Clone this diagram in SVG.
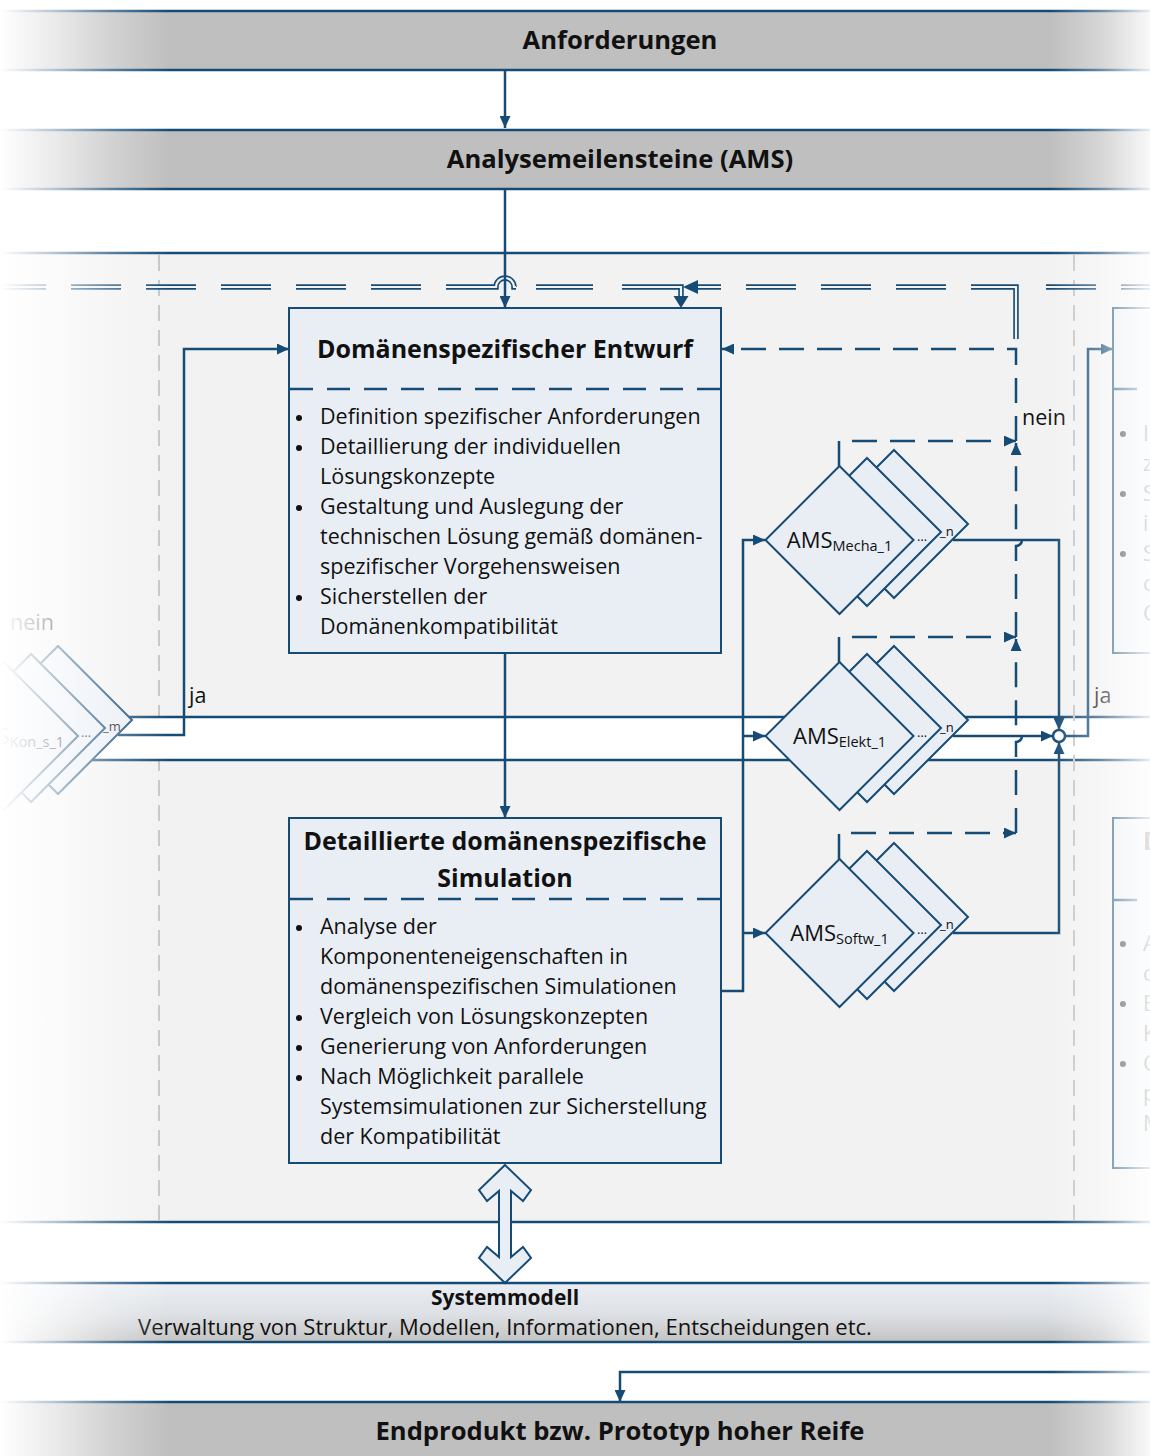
<svg xmlns="http://www.w3.org/2000/svg" width="1150" height="1456" viewBox="0 0 1150 1456">
  <defs>
    <style>
      .t{font-family:"Open Sans","DejaVu Sans",sans-serif;fill:#111}
      .bold{font-weight:bold}
      .body{font-size:21.5px}
      .ttl{font-size:25px;font-weight:bold}
      .bt{font-size:25.6px;font-weight:bold}
      .band{fill:#bfbfbf}
      .bl{stroke:#164b76;stroke-width:2.5;fill:none}
      .c{stroke:#164b76;stroke-width:2.5;fill:none}
      .d{stroke:#164b76;stroke-width:2.5;fill:none;stroke-dasharray:25 13}
      .box{fill:#e9eef5;stroke:#164b76;stroke-width:2}
      .sep{stroke:#164b76;stroke-width:2.5;stroke-dasharray:23 14}
      .dia{fill:#e9eef5;stroke:#164b76;stroke-width:2}
      .lane{stroke:#c6c6c6;stroke-width:2;stroke-dasharray:16 9}
      .dbo{stroke:#164b76;stroke-width:5.5;fill:none}
      .dbi{stroke:#f2f2f2;stroke-width:2.2;fill:none}
      .ah{fill:#164b76}
      .sm{font-size:13px}
      .dot{fill:#111}
    </style>
    <marker id="arr" viewBox="0 0 12 11" refX="12" refY="5.5" markerWidth="12" markerHeight="11" markerUnits="userSpaceOnUse" orient="auto">
      <path d="M0,0 L12,5.5 L0,11 z" fill="#164b76"/>
    </marker>
    <linearGradient id="sysGrad" x1="0" y1="0" x2="0" y2="1">
      <stop offset="0" stop-color="#ebeff4"/>
      <stop offset="0.55" stop-color="#dcdfe3"/>
      <stop offset="1" stop-color="#c3c3c3"/>
    </linearGradient>
    <linearGradient id="fadeL" x1="0" y1="0" x2="1" y2="0">
      <stop offset="0" stop-color="#fff" stop-opacity="1"/>
      <stop offset="0.3" stop-color="#fff" stop-opacity="0.7"/>
      <stop offset="0.65" stop-color="#fff" stop-opacity="0.3"/>
      <stop offset="1" stop-color="#fff" stop-opacity="0"/>
    </linearGradient>
    <linearGradient id="fadeR" x1="0" y1="0" x2="1" y2="0">
      <stop offset="0" stop-color="#fff" stop-opacity="0"/>
      <stop offset="0.5" stop-color="#fff" stop-opacity="0.35"/>
      <stop offset="1" stop-color="#fff" stop-opacity="0.9"/>
    </linearGradient>
    <path id="dm" d="M0,-74 L74,0 L0,74 L-74,0 z"/>
    <!-- double (system level) information flow -->
    <path id="dblL" d="M-4,287 H46 M71,287 H121 M146,287 H196 M221,287 H271 M296,287 H346 M371,287 H421 M446,287 H496 A9,9 0 0 1 514,287 H516 M536,287 H593 M622,287 H681 V297"/>
    <path id="dblR" d="M698,287 H721 M746,287 H796 M821,287 H871 M896,287 H946 M971,287 H1016 V339 M1046,287 H1096 M1121,287 H1160"/>
  </defs>

  <!-- background bands -->
  <rect x="0" y="0" width="1150" height="1456" fill="#fff"/>
  <g id="band-anforderungen">
    <rect class="band" x="0" y="11" width="1150" height="59"/>
    <line class="bl" x1="0" y1="11" x2="1150" y2="11"/>
    <line class="bl" x1="0" y1="70" x2="1150" y2="70"/>
    <text class="t bt" x="620" y="49" text-anchor="middle">Anforderungen</text>
  </g>
  <g id="band-ams">
    <rect class="band" x="0" y="130" width="1150" height="59"/>
    <line class="bl" x1="0" y1="130" x2="1150" y2="130"/>
    <line class="bl" x1="0" y1="189" x2="1150" y2="189"/>
    <text class="t bt" x="620" y="168" text-anchor="middle">Analysemeilensteine (AMS)</text>
  </g>
  <g id="lane-domain">
    <rect x="0" y="253" width="1150" height="969" fill="#f2f2f2"/>
    <line class="bl" x1="0" y1="253" x2="1150" y2="253"/>
    <line class="bl" x1="0" y1="1222" x2="1150" y2="1222"/>
    <line class="lane" x1="159" y1="255" x2="159" y2="1220"/>
    <!-- white strip of the overall decision path -->
    <rect x="0" y="717" width="1150" height="43" fill="#fff"/>
    <line class="bl" x1="0" y1="717" x2="1150" y2="717"/>
    <line class="bl" x1="0" y1="760" x2="1150" y2="760"/>
    <line class="lane" x1="1074" y1="255" x2="1074" y2="1220"/>
  </g>
  <g id="band-systemmodell">
    <rect x="0" y="1283" width="1150" height="59" fill="url(#sysGrad)"/>
    <line class="bl" x1="0" y1="1283" x2="1150" y2="1283"/>
    <line class="bl" x1="0" y1="1342" x2="1150" y2="1342"/>
    <text class="t bold" x="505" y="1305" font-size="21" text-anchor="middle">Systemmodell</text>
    <text class="t" x="505" y="1335" font-size="22" text-anchor="middle">Verwaltung von Struktur, Modellen, Informationen, Entscheidungen etc.</text>
  </g>
  <g id="band-endprodukt">
    <rect class="band" x="0" y="1402" width="1150" height="54"/>
    <line class="bl" x1="0" y1="1402" x2="1150" y2="1402"/>
    <text class="t bt" x="620" y="1440" text-anchor="middle">Endprodukt bzw. Prototyp hoher Reife</text>
  </g>

  <!-- connectors -->
  <g id="connectors">
    <use href="#dblL" class="dbo"/>
    <use href="#dblL" class="dbi"/>
    <use href="#dblR" class="dbo"/>
    <use href="#dblR" class="dbi"/>
    <polygon class="ah" points="683,287 698,280 698,294"/>
    <polygon class="ah" points="681,308 673.5,296 688.5,296"/>

    <path class="c" d="M505,70 V128" marker-end="url(#arr)"/>
    <path class="c" d="M505,189 V308" marker-end="url(#arr)"/>
    <path class="c" d="M505,654 V818" marker-end="url(#arr)"/>
    <path class="c" d="M118,735 H184 V349 H289" marker-end="url(#arr)"/>
    <path class="c" d="M721,991 H743 V540 H765" marker-end="url(#arr)"/>
    <path class="c" d="M743,736 H765" marker-end="url(#arr)"/>
    <path class="c" d="M743,933 H765" marker-end="url(#arr)"/>
    <path class="c" d="M953,540 H1059 V730" marker-end="url(#arr)"/>
    <path class="c" d="M953,736 H1053" marker-end="url(#arr)"/>
    <path class="c" d="M953,933 H1059 V742" marker-end="url(#arr)"/>
    <path class="c" d="M1065,736 H1088 V349 H1113" marker-end="url(#arr)"/>
    <path class="c" d="M1160,1372 H620 V1402" marker-end="url(#arr)"/>

    <path class="d" d="M839,466 V441 H1016" marker-end="url(#arr)"/>
    <path class="d" d="M839,662 V637 H1016" marker-end="url(#arr)"/>
    <path class="d" d="M839,859 V833 H1016" marker-end="url(#arr)"/>
    <path class="d" d="M1016,833 V742 A6,6 0 0 0 1016,730 V639" marker-end="url(#arr)"/>
    <path class="d" d="M1016,637 V546 A6,6 0 0 0 1016,534 V443" marker-end="url(#arr)"/>
    <path class="d" d="M1016,441 V349 H722" marker-end="url(#arr)"/>

    <circle cx="1059" cy="736" r="6" fill="#fff" stroke="#164b76" stroke-width="2.5"/>

    <text class="t body" x="189" y="703">ja</text>
    <text class="t body" x="1094" y="703">ja</text>
    <text class="t body" x="1022" y="425">nein</text>
    <text class="t body" x="10" y="630">nein</text>
  </g>

  <!-- design box -->
  <g id="node-entwurf">
    <rect class="box" x="289" y="308" width="432" height="345"/>
    <line class="sep" x1="290" y1="389" x2="720" y2="389"/>
    <text class="t ttl" x="505" y="358" text-anchor="middle">Domänenspezifischer Entwurf</text>
    <circle class="dot" cx="299" cy="418" r="3"/>
    <circle class="dot" cx="299" cy="448" r="3"/>
    <circle class="dot" cx="299" cy="508" r="3"/>
    <circle class="dot" cx="299" cy="598" r="3"/>
    <g class="t body">
      <text x="320" y="424">Definition spezifischer Anforderungen</text>
      <text x="320" y="454">Detaillierung der individuellen</text>
      <text x="320" y="484">Lösungskonzepte</text>
      <text x="320" y="514">Gestaltung und Auslegung der</text>
      <text x="320" y="544">technischen Lösung gemäß domänen-</text>
      <text x="320" y="574">spezifischer Vorgehensweisen</text>
      <text x="320" y="604">Sicherstellen der</text>
      <text x="320" y="634">Domänenkompatibilität</text>
    </g>
  </g>

  <!-- simulation box -->
  <g id="node-simulation">
    <rect class="box" x="289" y="818" width="432" height="345"/>
    <line class="sep" x1="290" y1="899" x2="720" y2="899"/>
    <text class="t ttl" x="505" y="850" text-anchor="middle">Detaillierte domänenspezifische</text>
    <text class="t ttl" x="505" y="887" text-anchor="middle">Simulation</text>
    <circle class="dot" cx="299" cy="928" r="3"/>
    <circle class="dot" cx="299" cy="1018" r="3"/>
    <circle class="dot" cx="299" cy="1048" r="3"/>
    <circle class="dot" cx="299" cy="1078" r="3"/>
    <g class="t body">
      <text x="320" y="934">Analyse der</text>
      <text x="320" y="964">Komponenteneigenschaften in</text>
      <text x="320" y="994">domänenspezifischen Simulationen</text>
      <text x="320" y="1024">Vergleich von Lösungskonzepten</text>
      <text x="320" y="1054">Generierung von Anforderungen</text>
      <text x="320" y="1084">Nach Möglichkeit parallele</text>
      <text x="320" y="1114">Systemsimulationen zur Sicherstellung</text>
      <text x="320" y="1144">der Kompatibilität</text>
    </g>
  </g>

  <!-- exchange with the system model -->
  <g id="link-systemmodell">
    <polygon points="505,1165 531,1190 523,1201 511,1191 511,1257 523,1247 531,1258 505,1283 479,1258 487,1247 499,1257 499,1191 487,1201 479,1190" fill="#e9eef5" stroke="#164b76" stroke-width="2"/>
  </g>

  <!-- milestone stacks -->
  <g id="node-ams-mecha">
    <use href="#dm" class="dia" x="894" y="524"/>
    <use href="#dm" class="dia" x="867" y="532"/>
    <use href="#dm" class="dia" x="839.5" y="540"/>
    <text class="t" x="839.5" y="548" font-size="22" text-anchor="middle">AMS<tspan font-size="14.5" dy="3">Mecha_1</tspan></text>
    <text class="t sm" x="917" y="541">…</text>
    <text class="t sm" x="940" y="536">_n</text>
  </g>
  <g id="node-ams-elekt">
    <use href="#dm" class="dia" x="894" y="720"/>
    <use href="#dm" class="dia" x="867" y="728"/>
    <use href="#dm" class="dia" x="839.5" y="736"/>
    <text class="t" x="839.5" y="744" font-size="22" text-anchor="middle">AMS<tspan font-size="14.5" dy="3">Elekt_1</tspan></text>
    <text class="t sm" x="917" y="737">…</text>
    <text class="t sm" x="940" y="732">_n</text>
  </g>
  <g id="node-ams-softw">
    <use href="#dm" class="dia" x="894" y="917"/>
    <use href="#dm" class="dia" x="867" y="925"/>
    <use href="#dm" class="dia" x="839.5" y="933"/>
    <text class="t" x="839.5" y="941" font-size="22" text-anchor="middle">AMS<tspan font-size="14.5" dy="3">Softw_1</tspan></text>
    <text class="t sm" x="917" y="934">…</text>
    <text class="t sm" x="940" y="929">_n</text>
  </g>
  <g id="node-ams-kon">
    <use href="#dm" class="dia" x="58" y="720"/>
    <use href="#dm" class="dia" x="31" y="728"/>
    <use href="#dm" class="dia" x="4" y="736"/>
    <text class="t" x="-36" y="744" font-size="22">AMS<tspan font-size="14.5" dy="3">Kon_s_1</tspan></text>
    <text class="t sm" x="81" y="737">…</text>
    <text class="t sm" x="103" y="731">_m</text>
  </g>

  <!-- neighbouring column boxes -->
  <g id="node-next-1">
    <rect class="box" x="1113" y="308" width="80" height="345"/>
    <line class="sep" x1="1114" y1="389" x2="1190" y2="389"/>
    <circle class="dot" cx="1123" cy="434" r="3"/>
    <circle class="dot" cx="1123" cy="494" r="3"/>
    <circle class="dot" cx="1123" cy="554" r="3"/>
    <g class="t body">
      <text x="1143" y="441">I</text>
      <text x="1143" y="471">z</text>
      <text x="1143" y="501">S</text>
      <text x="1143" y="531">i</text>
      <text x="1143" y="561">S</text>
      <text x="1143" y="591">c</text>
      <text x="1143" y="621">C</text>
    </g>
  </g>
  <g id="node-next-2">
    <rect class="box" x="1113" y="818" width="80" height="350"/>
    <line class="sep" x1="1114" y1="900" x2="1190" y2="900"/>
    <text class="t ttl" x="1143" y="850">D</text>
    <circle class="dot" cx="1123" cy="944" r="3"/>
    <circle class="dot" cx="1123" cy="1004" r="3"/>
    <circle class="dot" cx="1123" cy="1064" r="3"/>
    <g class="t body">
      <text x="1143" y="951">A</text>
      <text x="1143" y="981">c</text>
      <text x="1143" y="1011">E</text>
      <text x="1143" y="1041">K</text>
      <text x="1143" y="1071">C</text>
      <text x="1143" y="1101">p</text>
      <text x="1143" y="1131">M</text>
    </g>
  </g>

  <!-- soft fade at both side edges -->
  <rect x="0" y="0" width="170" height="1456" fill="url(#fadeL)"/>
  <rect x="1050" y="0" width="100" height="1456" fill="url(#fadeR)"/>
</svg>
